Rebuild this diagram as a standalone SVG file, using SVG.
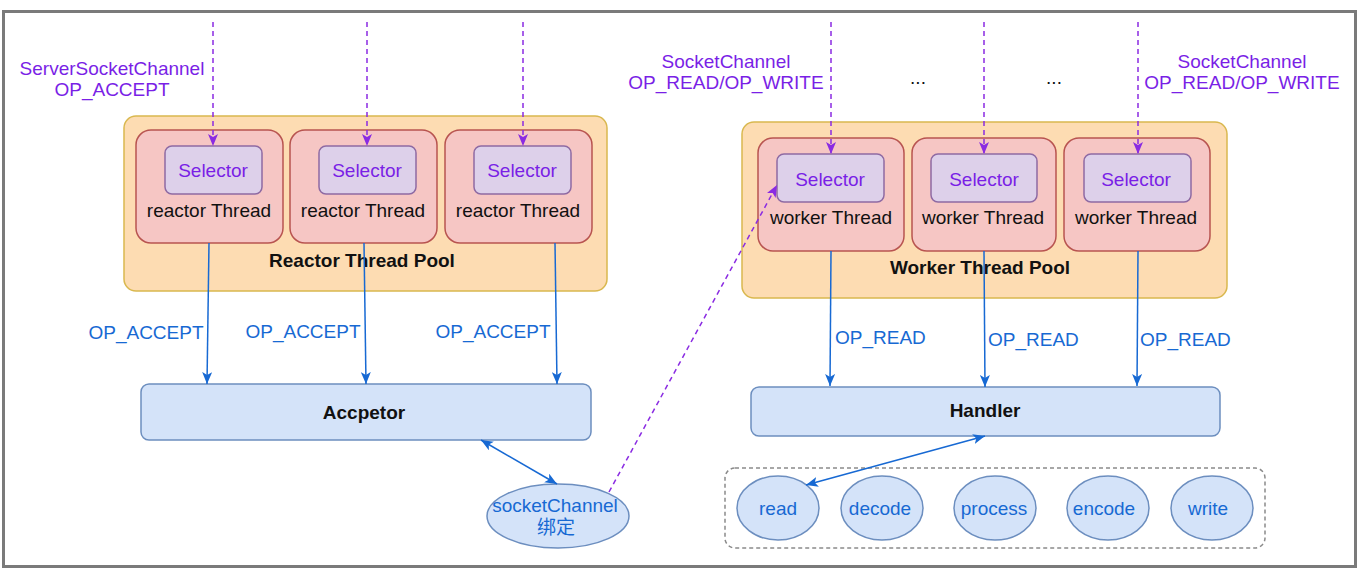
<svg xmlns="http://www.w3.org/2000/svg" width="1360" height="576" viewBox="0 0 1360 576">
<defs>
<style>
text{font-family:"Liberation Sans",Arial,"Noto Sans CJK SC",sans-serif;font-size:19px;text-anchor:middle}
.pool{fill:#fddcb2;stroke:#d9b84f;stroke-width:1.5}
.thr{fill:#f6c6c4;stroke:#b85450;stroke-width:1.5}
.sel{fill:#ddd0ea;stroke:#8e6aa3;stroke-width:1.5}
.blue{fill:#d4e3f9;stroke:#6c8ebf;stroke-width:1.5}
.pt{fill:#7a1fe6}
.bt{fill:#1769d3}
.k{fill:#111}
.b{font-weight:bold}
.dash{fill:none;stroke:#8a2be2;stroke-width:1.5;stroke-dasharray:5 4}
.sol{fill:none;stroke:#1769d3;stroke-width:1.5}
</style>
<marker id="ap" markerUnits="userSpaceOnUse" viewBox="0 0 12 10" refX="12" refY="5" markerWidth="12" markerHeight="10" orient="auto">
<path d="M0,0 L12,5 L0,10 L3,5 Z" fill="#8a2be2"/>
</marker>
<marker id="ab" markerUnits="userSpaceOnUse" viewBox="0 0 12 10" refX="12" refY="5" markerWidth="12" markerHeight="10" orient="auto">
<path d="M0,0 L12,5 L0,10 L3,5 Z" fill="#1769d3"/>
</marker>
<marker id="abs" markerUnits="userSpaceOnUse" viewBox="0 0 12 10" refX="0" refY="5" markerWidth="12" markerHeight="10" orient="auto">
<path d="M12,0 L0,5 L12,10 L9,5 Z" fill="#1769d3"/>
</marker>
</defs>
<rect x="0" y="0" width="1360" height="576" fill="#ffffff"/>
<rect x="3.5" y="11.5" width="1352" height="555" fill="none" stroke="#7a7a7a" stroke-width="3"/>

<g id="reactor-pool">
<rect class="pool" x="124" y="116" width="483" height="175" rx="12"/>
<text class="k b" x="362" y="267">Reactor Thread Pool</text>
</g>
<g id="reactor-thread-1">
<rect class="thr" x="136" y="130" width="147" height="113" rx="15"/>
<rect class="sel" x="165" y="146" width="97" height="48" rx="7"/>
<text class="pt" x="213" y="177">Selector</text>
<text class="k" x="209" y="217">reactor Thread</text>
</g>
<g id="reactor-thread-2">
<rect class="thr" x="290" y="130" width="147" height="113" rx="15"/>
<rect class="sel" x="319" y="146" width="97" height="48" rx="7"/>
<text class="pt" x="367" y="177">Selector</text>
<text class="k" x="363" y="217">reactor Thread</text>
</g>
<g id="reactor-thread-3">
<rect class="thr" x="445" y="130" width="147" height="113" rx="15"/>
<rect class="sel" x="474" y="146" width="97" height="48" rx="7"/>
<text class="pt" x="522" y="177">Selector</text>
<text class="k" x="518" y="217">reactor Thread</text>
</g>

<g id="worker-pool">
<rect class="pool" x="742" y="122" width="485" height="176" rx="12"/>
<text class="k b" x="980" y="274">Worker Thread Pool</text>
</g>
<g id="worker-thread-1">
<rect class="thr" x="758" y="138" width="146" height="113" rx="15"/>
<rect class="sel" x="777" y="154" width="107" height="48" rx="7"/>
<text class="pt" x="830" y="186">Selector</text>
<text class="k" x="831" y="224">worker Thread</text>
</g>
<g id="worker-thread-2">
<rect class="thr" x="912" y="138" width="144" height="113" rx="15"/>
<rect class="sel" x="931" y="154" width="106" height="48" rx="7"/>
<text class="pt" x="984" y="186">Selector</text>
<text class="k" x="983" y="224">worker Thread</text>
</g>
<g id="worker-thread-3">
<rect class="thr" x="1064" y="138" width="146" height="113" rx="15"/>
<rect class="sel" x="1084" y="154" width="107" height="48" rx="7"/>
<text class="pt" x="1136" y="186">Selector</text>
<text class="k" x="1136" y="224">worker Thread</text>
</g>

<g id="acceptor">
<rect class="blue" x="141" y="384" width="450" height="56" rx="8"/>
<text class="k b" x="364" y="419">Accpetor</text>
</g>
<g id="handler">
<rect class="blue" x="751" y="387" width="469" height="49" rx="8"/>
<text class="k b" x="985" y="417">Handler</text>
</g>
<g id="socketchannel">
<ellipse class="blue" cx="558" cy="516" rx="71" ry="32"/>
<text class="bt" x="555" y="512">socketChannel</text>
<text class="bt" x="556" y="534">绑定</text>
</g>
<g id="pipeline">
<rect x="725" y="468" width="540" height="80" rx="10" fill="none" stroke="#8a8a8a" stroke-width="1.5" stroke-dasharray="4 3"/>
</g>
<g id="read"><ellipse class="blue" cx="778" cy="508" rx="41" ry="32"/><text class="bt" x="778" y="515">read</text></g>
<g id="decode"><ellipse class="blue" cx="882" cy="508" rx="41" ry="32"/><text class="bt" x="880" y="515">decode</text></g>
<g id="process"><ellipse class="blue" cx="995" cy="508" rx="41" ry="32"/><text class="bt" x="994" y="515">process</text></g>
<g id="encode"><ellipse class="blue" cx="1108" cy="508" rx="41" ry="32"/><text class="bt" x="1104" y="515">encode</text></g>
<g id="write"><ellipse class="blue" cx="1212" cy="508" rx="41" ry="32"/><text class="bt" x="1208" y="515">write</text></g>

<g id="labels">
<text class="pt" x="112" y="75">ServerSocketChannel</text>
<text class="pt" x="112" y="96">OP_ACCEPT</text>
<text class="pt" x="726" y="68">SocketChannel</text>
<text class="pt" x="726" y="89">OP_READ/OP_WRITE</text>
<text class="pt" x="1242" y="68">SocketChannel</text>
<text class="pt" x="1242" y="89">OP_READ/OP_WRITE</text>
<text class="k" x="918" y="84">...</text>
<text class="k" x="1054" y="84">...</text>
</g>

<g id="connectors">
<line class="dash" x1="213" y1="22" x2="213" y2="146" marker-end="url(#ap)"/>
<line class="dash" x1="367" y1="22" x2="367" y2="146" marker-end="url(#ap)"/>
<line class="dash" x1="523" y1="22" x2="523" y2="146" marker-end="url(#ap)"/>
<line class="dash" x1="831" y1="22" x2="831" y2="154" marker-end="url(#ap)"/>
<line class="dash" x1="984" y1="22" x2="984" y2="154" marker-end="url(#ap)"/>
<line class="dash" x1="1138" y1="22" x2="1138" y2="154" marker-end="url(#ap)"/>
<line class="dash" x1="609" y1="492" x2="777" y2="185" marker-end="url(#ap)"/>

<line class="sol" x1="209" y1="243" x2="207" y2="384" marker-end="url(#ab)"/>
<line class="sol" x1="364" y1="243" x2="366" y2="384" marker-end="url(#ab)"/>
<line class="sol" x1="555" y1="243" x2="557" y2="384" marker-end="url(#ab)"/>
<text class="bt" x="146" y="339">OP_ACCEPT</text>
<text class="bt" x="303" y="338">OP_ACCEPT</text>
<text class="bt" x="493" y="338">OP_ACCEPT</text>

<line class="sol" x1="831" y1="251" x2="830" y2="386" marker-end="url(#ab)"/>
<line class="sol" x1="984" y1="251" x2="985" y2="387" marker-end="url(#ab)"/>
<line class="sol" x1="1138" y1="251" x2="1137" y2="386" marker-end="url(#ab)"/>
<text class="bt" x="835" y="344" style="text-anchor:start">OP_READ</text>
<text class="bt" x="988" y="346" style="text-anchor:start">OP_READ</text>
<text class="bt" x="1140" y="346" style="text-anchor:start">OP_READ</text>

<line class="sol" x1="481" y1="440" x2="557" y2="484" marker-start="url(#abs)" marker-end="url(#ab)"/>
<line class="sol" x1="985" y1="436" x2="806" y2="485" marker-start="url(#abs)" marker-end="url(#ab)"/>
</g>
</svg>
